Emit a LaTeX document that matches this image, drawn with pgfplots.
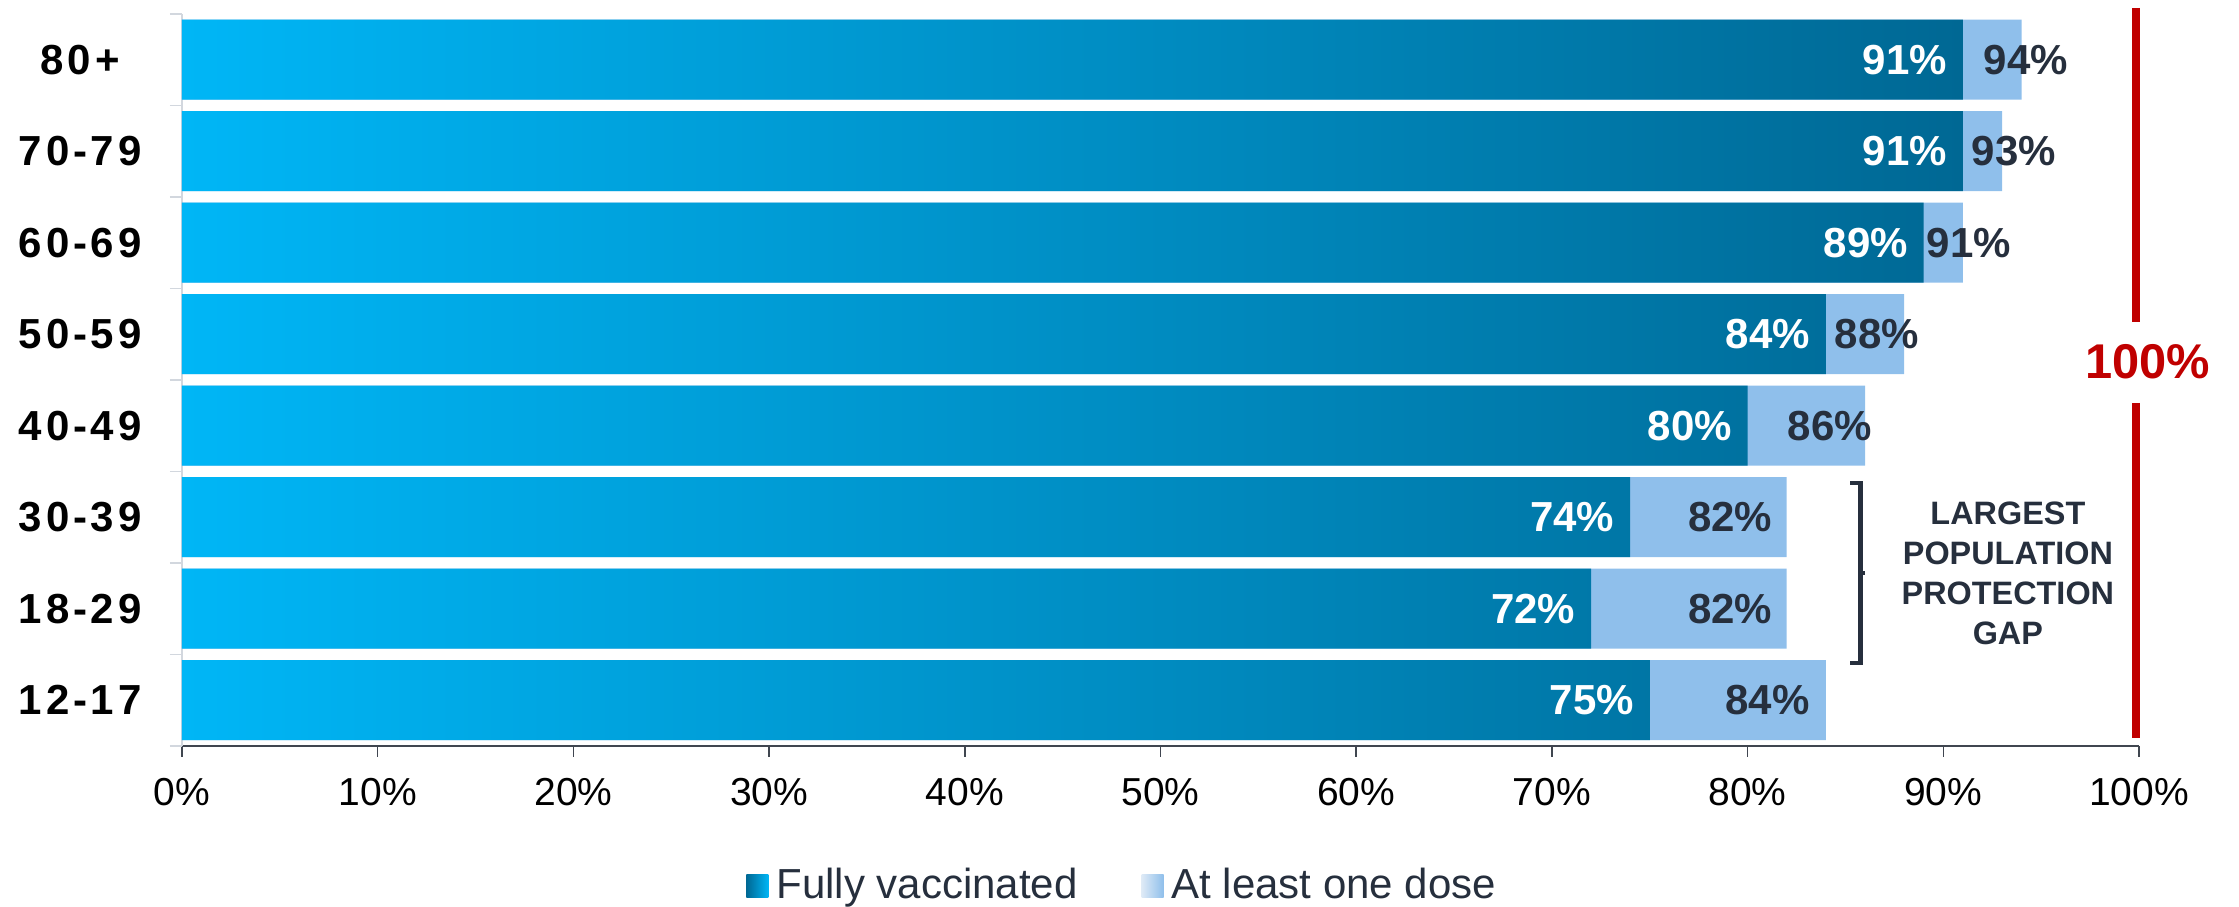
\documentclass[border=0pt]{standalone}
\usepackage{pgfplots}
\pgfplotsset{compat=1.18}
\usepackage{pgfplotstable}
\usepackage{fontspec}
\setmainfont{Liberation Sans}
\newfontfamily\catfont[LetterSpace=9]{Liberation Sans}
\definecolor{cyanL}{RGB}{0,182,246}
\definecolor{darkB}{RGB}{0,104,148}
\definecolor{lightbar}{RGB}{143,191,235}
\definecolor{lightleg}{RGB}{222,234,246}
\definecolor{txtdark}{RGB}{38,47,61}
\definecolor{redline}{RGB}{192,0,0}
\definecolor{axisgray}{RGB}{64,70,80}
\definecolor{ygray}{RGB}{210,215,222}
\pgfplotstableread{
y full atleast lx
7 91 94 96.4
6 91 93 95.8
5 89 91 93.5
4 84 88 88.8
3 80 86 86.4
2 74 82 81.3
1 72 82 81.3
0 75 84 83.2
}\datatable
\begin{document}
\begin{tikzpicture}
\useasboundingbox (-45.5pt,-40.25pt) rectangle (514.25pt,186.5pt);
\begin{axis}[
  scale only axis, width=489.25pt, height=183pt,
  xmin=0, xmax=100, ymin=-0.5, ymax=7.5,
  /pgf/number format/assume math mode=true,
  axis x line*=bottom, axis y line*=left,
  x axis line style={draw=axisgray, line width=0.6pt, -},
  y axis line style={draw=ygray, line width=0.5pt, -},
  xtick={0,10,...,100},
  xticklabels={0\%,10\%,20\%,30\%,40\%,50\%,60\%,70\%,80\%,90\%,100\%},
  xticklabel style={font=\fontsize{9.75}{11}\selectfont, text=black, yshift=-1.75pt},
  x tick style={draw=axisgray, line width=0.4pt},
  tick align=outside,
  major tick length=2.75pt,
  ytick={0,...,7},
  yticklabels={12-17,18-29,30-39,40-49,50-59,60-69,70-79,80+},
  yticklabel style={font=\catfont\bfseries\fontsize{10.5}{12}\selectfont, text=black, anchor=east, inner sep=0pt, text width=32pt, align=center, xshift=-6.5pt},
  major y tick style={draw=none},
  minor ytick={-0.5,0.5,...,7.5},
  minor y tick style={draw=ygray, line width=0.4pt},
  minor tick length=3pt,
  clip=false,
  legend columns=2,
  legend cell align=left,
  legend style={at={(0.482,-0.191)}, anchor=center, draw=none, fill=none,
    font=\fontsize{10.5}{12}\selectfont, text=txtdark,
    /tikz/every even column/.append style={column sep=14pt}},
]
\addplot[xbar, bar width=20pt, bar shift=0pt, draw=none, fill=lightbar, forget plot]
  table[x=atleast, y=y] {\datatable};
\addplot[xbar, bar width=20pt, bar shift=0pt, draw=none, left color=cyanL, right color=darkB, forget plot]
  table[x=full, y=y] {\datatable};
% white labels inside the fully vaccinated bars
\addplot[draw=none, mark=none, forget plot, point meta=explicit,
  nodes near coords={\pgfmathprintnumber{\pgfplotspointmeta}\%},
  nodes near coords style={anchor=east, inner sep=0pt, text=white, font=\bfseries\fontsize{10.5}{12}\selectfont}]
  table[x expr=\thisrow{full}-0.77, y=y, meta=full] {\datatable};
% dark labels for at least one dose
\addplot[draw=none, mark=none, forget plot, point meta=explicit,
  nodes near coords={\pgfmathprintnumber{\pgfplotspointmeta}\%},
  nodes near coords style={anchor=east, inner sep=0pt, text=txtdark, font=\bfseries\fontsize{10.5}{12}\selectfont}]
  table[x=lx, y=y, meta=atleast] {\datatable};
% red 100% line
\addplot[draw=redline, line width=2pt, forget plot] coordinates {(99.85,7.566) (99.85,4.134)};
\addplot[draw=redline, line width=2pt, forget plot] coordinates {(99.85,3.249) (99.85,-0.413)};
% bracket
\addplot[draw=txtdark, line width=1.2pt, forget plot] coordinates {(85.24,2.374) (85.75,2.374) (85.75,0.407) (85.24,0.407)};
\addplot[draw=txtdark, line width=1.2pt, forget plot] coordinates {(85.75,1.39) (86.0,1.39)};
\node[font=\bfseries\fontsize{12.2}{14}\selectfont, text=redline] at (axis cs:100.45,3.697) {100\%};
\node[align=center, font=\bfseries\fontsize{8.1}{10}\selectfont, text=txtdark] at (axis cs:93.3,1.39) {LARGEST\\POPULATION\\PROTECTION\\GAP};
\addlegendimage{legend image code/.code={\shade[draw=none, left color=darkB, right color=cyanL] (0pt,-2.875pt) rectangle (5.5pt,2.875pt);}}
\addlegendentry{Fully vaccinated}
\addlegendimage{legend image code/.code={\shade[draw=none, left color=lightleg, right color=lightbar] (0pt,-2.875pt) rectangle (5.5pt,2.875pt);}}
\addlegendentry{At least one dose}
\end{axis}
\end{tikzpicture}
\end{document}
